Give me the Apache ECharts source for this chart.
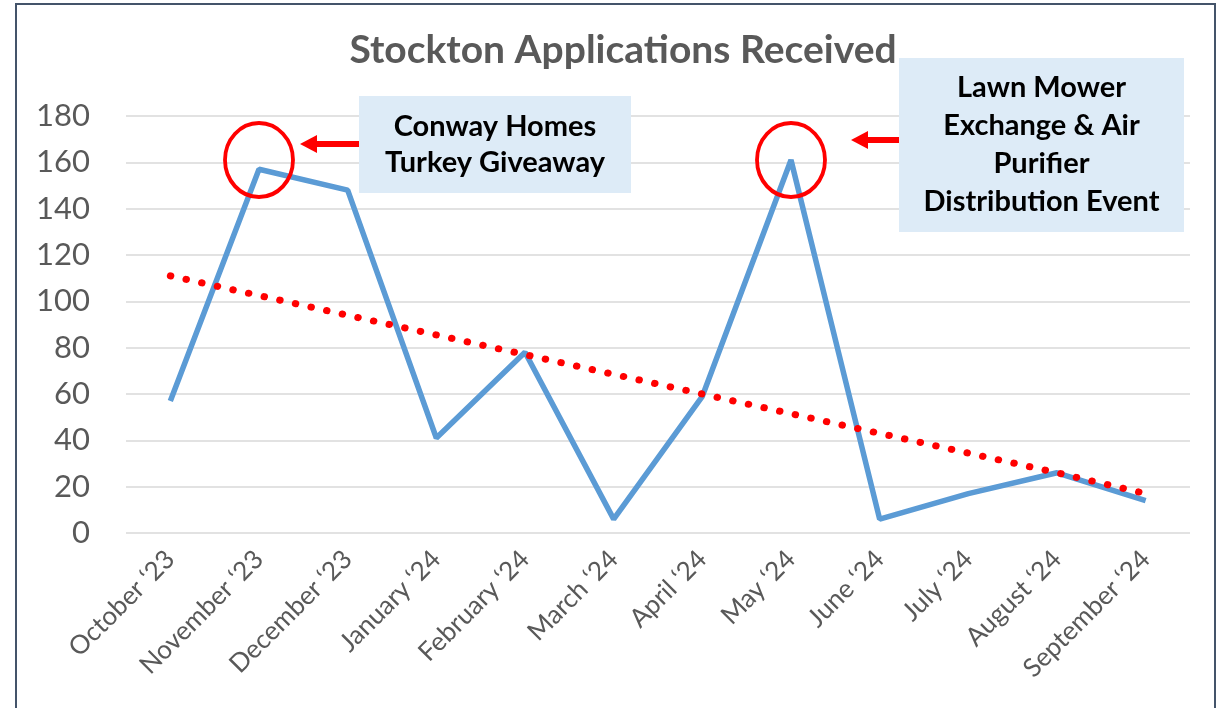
<!DOCTYPE html>
<html>
<head>
<meta charset="utf-8">
<script src="https://cdn.jsdelivr.net/npm/echarts@6/dist/echarts.min.js"></script>
<style>
  html, body { margin: 0; padding: 0; background: #fff; }
  #chart { width: 1220px; height: 708px; }
</style>
</head>
<body>
<div id="chart"></div>
<script>
const months = ['October ‘23', 'November ‘23', 'December ‘23', 'January ‘24', 'February ‘24', 'March ‘24',
  'April ‘24', 'May ‘24', 'June ‘24', 'July ‘24', 'August ‘24', 'September ‘24'];
const applications = [57, 157, 148, 41, 78, 6, 59, 161, 6, 17, 26, 14];
const trend = [111, 102.5, 94, 85.5, 77, 68.5, 60, 51.5, 43, 34.5, 26, 17];
const yTicks = { min: 0, max: 180, step: 20 };
const highlights = [['November ‘23', 161], ['May ‘24', 161]];

const chart = echarts.init(document.getElementById('chart'));
const font = 'Lato, "Open Sans", sans-serif';
const ellipse = 'path://M0,50 A50,50 0 1,1 100,50 A50,50 0 1,1 0,50 Z';

function arrow(x0, x1, y) {
  // shaft from box edge, head pointing left at x1
  return {
    type: 'group',
    z: 100,
    children: [
      { type: 'line', shape: { x1: x0, y1: y, x2: x1 + 14, y2: y }, style: { stroke: '#FF0000', lineWidth: 6 } },
      { type: 'polygon', shape: { points: [[x1, y], [x1 + 17, y - 9], [x1 + 17, y + 9]] }, style: { fill: '#FF0000' } }
    ]
  };
}

function note(x, y, w, h, lines, lh) {
  return {
    type: 'group',
    z: 100,
    children: [
      { type: 'rect', z: 100, shape: { x, y, width: w, height: h }, style: { fill: '#DDEBF7' } },
      {
        type: 'text', z: 101, x: x + w / 2, y: y + h / 2,
        style: {
          text: lines.join('\n'), font: `bold 29px ${font}`, fill: '#000', align: 'center',
          verticalAlign: 'middle', lineHeight: lh
        }
      }
    ]
  };
}

chart.setOption({
  animation: false,
  title: {
    text: 'Stockton Applications Received',
    left: 618, top: 26, textAlign: 'center',
    textStyle: { fontFamily: font, fontSize: 39, fontWeight: 'bold', color: '#595959' }
  },
  grid: { left: 126, right: 30, top: 116, bottom: 175 },
  xAxis: {
    type: 'category',
    data: months,
    boundaryGap: true,
    axisTick: { show: false },
    axisLine: { show: false },
    axisLabel: { rotate: 45, margin: 22, interval: 0, fontFamily: font, fontSize: 26, color: '#595959' }
  },
  yAxis: {
    type: 'value',
    min: yTicks.min, max: yTicks.max, interval: yTicks.step,
    axisLine: { show: false },
    axisTick: { show: false },
    axisLabel: { margin: 36, fontFamily: font, fontSize: 31, color: '#595959' },
    splitLine: { lineStyle: { color: '#D9D9D9', width: 1.5 } }
  },
  series: [
    {
      name: 'Applications',
      type: 'line',
      data: applications,
      symbol: 'none',
      lineStyle: { color: '#5B9BD5', width: 5.5 },
      markPoint: {
        symbol: ellipse,
        symbolSize: [68, 74],
        symbolKeepAspect: false,
        label: { show: false },
        itemStyle: { color: 'transparent', borderColor: '#FF0000', borderWidth: 4 },
        data: highlights.map(c => ({ coord: c }))
      },
      z: 2
    },
    {
      name: 'Trend',
      type: 'line',
      data: trend,
      symbol: 'none',
      lineStyle: { color: '#FF0000', width: 7, type: [0.5, 15.5], cap: 'round' },
      z: 3
    }
  ],
  graphic: [
    { type: 'rect', shape: { x: 16, y: 4, width: 1199, height: 760 }, style: { fill: 'none', stroke: '#44546A', lineWidth: 2 } },
    note(359, 96, 272, 97, ['Conway Homes', 'Turkey Giveaway'], 36),
    note(899, 58, 285, 174, ['Lawn Mower', 'Exchange & Air', 'Purifier', 'Distribution Event'], 38),
    arrow(359, 300, 144),
    arrow(899, 851, 140)
  ]
});
</script>
</body>
</html>
